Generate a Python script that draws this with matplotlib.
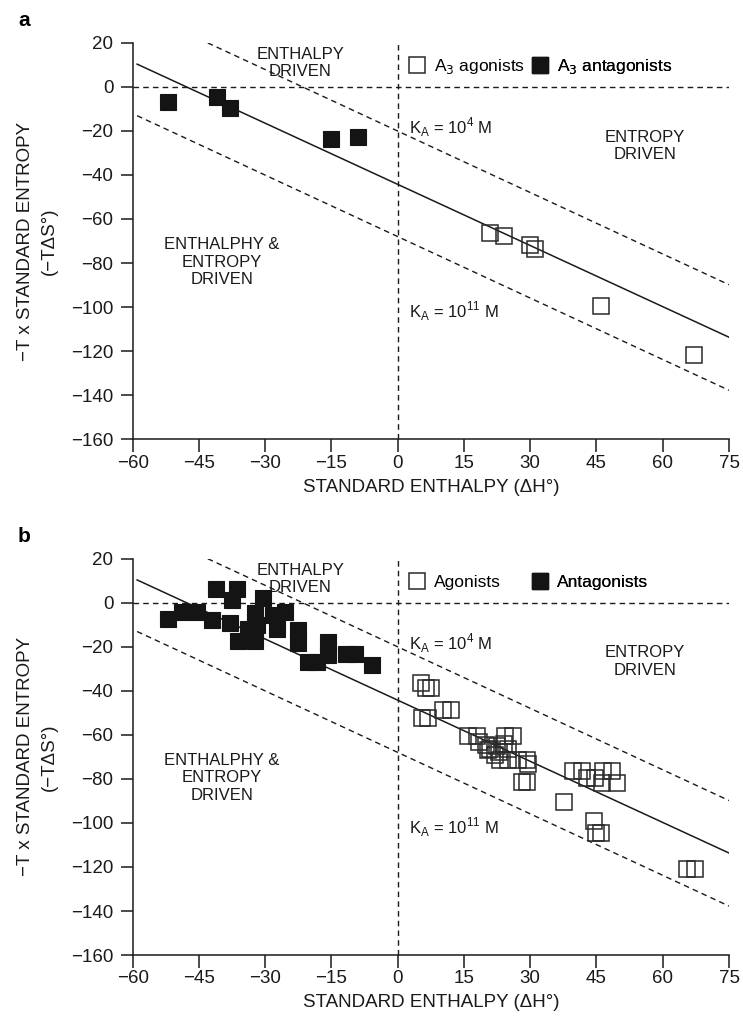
import numpy as np
import matplotlib
matplotlib.use("Agg")
import matplotlib.pyplot as plt
from matplotlib.lines import Line2D

plt.rcParams['font.family'] = ['Liberation Sans', 'DejaVu Sans']

## ---- data ----
# panel a
a_ago_x = [21.0, 24.1, 30.0, 31.1, 46.0, 67.1]
a_ago_y = [-66.5, -67.7, -71.8, -73.6, -99.5, -121.8]
a_ant_x = [-52.1, -41.0, -38.0, -15.0, -9.0]
a_ant_y = [-6.8, -4.5, -9.8, -23.7, -22.7]

# panel b
b_ago_x = [5.2, 6.4, 7.5, 5.4, 6.8, 10.2, 12.0, 16.0, 17.9, 24.4, 26.0,
           18.5, 20.0, 21.0, 22.5, 24.0, 20.5, 23.0, 25.0, 22.0,
           23.2, 25.0, 27.3, 29.2, 29.6, 28.1, 29.2,
           39.6, 41.7, 42.8, 44.7, 46.5, 48.4, 46.2, 49.6,
           37.7, 44.5, 45.0, 46.0, 65.4, 67.3]
b_ago_y = [-36.6, -38.6, -38.6, -52.5, -52.5, -48.7, -48.7, -60.4, -60.4, -60.4, -60.4,
           -63.5, -64.5, -66.5, -65.0, -64.0, -67.0, -68.0, -66.5, -69.0,
           -71.4, -71.4, -71.4, -71.4, -73.4, -81.6, -81.6,
           -76.4, -76.4, -79.8, -79.8, -76.4, -76.4, -81.7, -81.7,
           -90.3, -99.1, -104.7, -104.7, -120.9, -120.9]
b_ant_x = [-52.1, -48.9, -45.5, -41.1, -42.1, -36.3, -38.0, -36.1, -32.3, -30.4,
           -32.3, -31.9, -28.2, -25.5, -27.4, -22.5, -22.5, -20.2, -18.3, -15.7,
           -15.7, -11.6, -9.7, -5.9, -37.5, -34.0]
b_ant_y = [-7.6, -4.4, -4.1, 6.2, -7.9, 6.2, -9.2, -17.5, -17.5, 2.0,
           -4.7, -10.2, -5.7, -4.1, -11.9, -12.4, -18.5, -27.2, -27.2, -17.7,
           -23.6, -23.5, -23.5, -28.3, 1.0, -12.0]

# reference lines: (slope, intercept, x start, x end)
line_fit = (-0.925, -44.3, -59.0, 75.0)
line_k4 = (-0.93, -20.1, -43.0, 75.0)
line_k11 = (-0.93, -68.0, -59.0, 75.0)

xticks = [-60, -45, -30, -15, 0, 15, 30, 45, 60, 75]
yticks = [20, 0, -20, -40, -60, -80, -100, -120, -140, -160]

panels = [
    ("a", a_ago_x, a_ago_y, a_ant_x, a_ant_y,
     ["A$_3$ agonists", "A$_3$ antagonists"]),
    ("b", b_ago_x, b_ago_y, b_ant_x, b_ant_y,
     ["Agonists", "Antagonists"]),
]

W, H = 743, 1026
fig = plt.figure(figsize=(W / 100, H / 100), dpi=100)

ink = "#1a1a1a"
x0, x1 = 132.7, 729.0
tops = [42.7, 558.5]
ax_h = 396.6
ax_w = x1 - x0

for (letter, gx, gy, nx, ny, names), top in zip(panels, tops):
    ax = fig.add_axes([x0 / W, 1 - (top + ax_h) / H, ax_w / W, ax_h / H])
    ax.set_xlim(-60, 75)
    ax.set_ylim(-160, 20)

    # guide lines
    ax.axhline(0, color=ink, lw=1, ls=(0, (4, 3)))
    ax.axvline(0, color=ink, lw=1, ls=(0, (4, 3)))
    for slope, icpt, xa, xb in [line_k4, line_k11]:
        xx = np.array([xa, xb])
        ax.plot(xx, slope * xx + icpt, color=ink, lw=1, ls=(0, (4, 3)))
    slope, icpt, xa, xb = line_fit
    xx = np.array([xa, xb])
    ax.plot(xx, slope * xx + icpt, color=ink, lw=1.1)

    # points
    ax.plot(gx, gy, ls="none", marker="s", ms=11.5, mfc="none",
            mec="#2a2a2a", mew=1.1, zorder=3)
    ax.plot(nx, ny, ls="none", marker="s", ms=11.5, mfc="#141414",
            mec="#141414", mew=0.8, zorder=4)

    # region labels
    lab = dict(fontsize=12, color=ink, linespacing=1.2)
    ax.text(-22.1, 10.8, "ENTHALPY\nDRIVEN", ha="center", va="center", **lab)
    ax.text(56.0, -26.8, "ENTROPY\nDRIVEN", ha="center", va="center", **lab)
    ax.text(-39.8, -79.6, "ENTHALPHY &\nENTROPY\nDRIVEN", ha="center",
            va="center", **lab)
    ax.text(2.6, -18.3, "K$_\\mathregular{A}$ = 10$^\\mathregular{4}$ M",
            ha="left", va="center", fontsize=12, color=ink)
    ax.text(2.6, -101.9, "K$_\\mathregular{A}$ = 10$^\\mathregular{11}$ M",
            ha="left", va="center", fontsize=12, color=ink)

    # legend: two single-entry legends at fixed spots
    h_open = Line2D([], [], ls="none", marker="s", ms=11.5, mfc="none",
                    mec="#2a2a2a", mew=1.1)
    h_fill = Line2D([], [], ls="none", marker="s", ms=11.5, mfc="#141414",
                    mec="#141414")
    leg_y = (439.3 - 67) / ax_h
    for h, name, px in [(h_open, names[0], 417), (h_fill, names[1], 540)]:
        leg = ax.legend([h], [name], frameon=False, loc="center left",
                        bbox_to_anchor=((px - 8.7 - x0) / ax_w, leg_y),
                        fontsize=12.5, handletextpad=0.5, handlelength=1.0,
                        borderaxespad=0, borderpad=0)
        ax.add_artist(leg)

    ax.spines["top"].set_visible(False)
    ax.spines["right"].set_visible(False)
    for s in ["left", "bottom"]:
        ax.spines[s].set_color(ink)
        ax.spines[s].set_linewidth(1.1)
    ax.set_xticks(xticks)
    ax.set_yticks(yticks)
    ax.tick_params(direction="out", length=9, width=1.1, color=ink,
                   labelsize=13.5, labelcolor=ink)
    ax.tick_params(axis="x", pad=2)
    ax.tick_params(axis="y", pad=5)
    ax.set_xlabel("STANDARD ENTHALPY (\u0394H\u00b0)", fontsize=13.5,
                  color=ink, labelpad=5)
    ax.set_ylabel("\u2212T x STANDARD ENTROPY\n(\u2212T\u0394S\u00b0)",
                  fontsize=13.5, color=ink, linespacing=1.55)
    ax.yaxis.set_label_coords((58 - x0) / ax_w, 0.5)

    fig.text(18 / W, 1 - (top - 22) / H, letter, fontsize=15,
             fontweight="bold", ha="left", va="center")

fig.savefig("out.png", dpi=100)
